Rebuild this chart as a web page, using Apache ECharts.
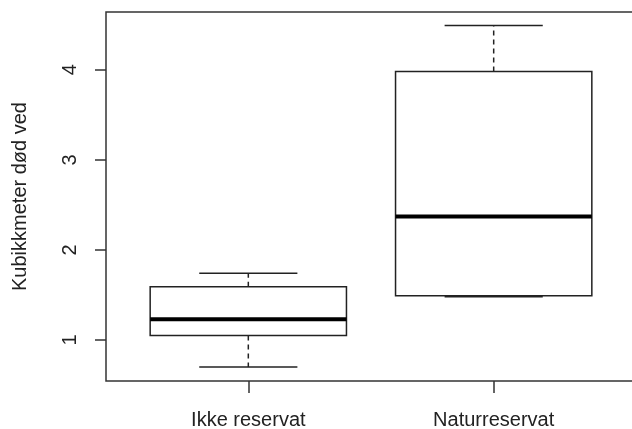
<!DOCTYPE html>
<html>
<head>
<meta charset="utf-8">
<script src="https://cdn.jsdelivr.net/npm/echarts@6/dist/echarts.min.js"></script>
<style>
  html, body { margin: 0; padding: 0; background: #fff; }
  #chart { width: 632px; height: 429px; }
</style>
</head>
<body>
<div id="chart"></div>
<script>
// Dead wood volume by area type: five-number summaries per group
const categories = ['Ikke reservat', 'Naturreservat'];
const whiskerLow  = [0.70, 1.48];
const lowerQuart  = [1.05, 1.49];
const medians     = [1.23, 2.37];
const upperQuart  = [1.59, 3.98];
const whiskerHigh = [1.74, 4.49];
const yTicks = [1, 2, 3, 4];

const BOX_WIDTH = 0.8;   // in x units (group positions are 1, 2, ...)
const CAP_WIDTH = 0.4;
const INK = '#222';
const FONT = 'Liberation Sans, Arial, sans-serif';

const rows = categories.map((c, i) => [
  i + 1, whiskerLow[i], lowerQuart[i], medians[i], upperQuart[i], whiskerHigh[i]
]);

function renderBox(params, api) {
  const x = api.value(0);
  const lo = api.coord([x, api.value(1)]);
  const q1 = api.coord([x, api.value(2)]);
  const md = api.coord([x, api.value(3)]);
  const q3 = api.coord([x, api.value(4)]);
  const hi = api.coord([x, api.value(5)]);
  const halfBox = api.size([BOX_WIDTH, 0])[0] / 2;
  const halfCap = api.size([CAP_WIDTH, 0])[0] / 2;
  const cx = lo[0];
  const thin = { stroke: INK, lineWidth: 1.5 };
  const dashed = { stroke: INK, lineWidth: 1.5, lineDash: [5, 4] };
  return {
    type: 'group',
    children: [
      { type: 'line', shape: { x1: cx, y1: q3[1], x2: cx, y2: hi[1] }, style: dashed },
      { type: 'line', shape: { x1: cx, y1: q1[1], x2: cx, y2: lo[1] }, style: dashed },
      { type: 'line', shape: { x1: cx - halfCap, y1: hi[1], x2: cx + halfCap, y2: hi[1] }, style: thin },
      { type: 'line', shape: { x1: cx - halfCap, y1: lo[1], x2: cx + halfCap, y2: lo[1] }, style: thin },
      { type: 'rect', shape: { x: cx - halfBox, y: q3[1], width: halfBox * 2, height: q1[1] - q3[1] },
        style: { fill: '#fff', stroke: INK, lineWidth: 1.5 } },
      { type: 'line', shape: { x1: cx - halfBox, y1: md[1], x2: cx + halfBox, y2: md[1] },
        style: { stroke: '#000', lineWidth: 4 } }
    ]
  };
}

const chart = echarts.init(document.getElementById('chart'), null, { renderer: 'canvas' });
chart.setOption({
  animation: false,
  backgroundColor: '#fff',
  grid: {
    left: 106, top: 12, width: 530, height: 369,
    outerBoundsMode: 'none', containLabel: false,
    show: true, borderColor: '#333', borderWidth: 1.5, backgroundColor: 'transparent'
  },
  xAxis: {
    type: 'value', min: 0.42, max: 2.58,
    axisLine: { show: false },
    splitLine: { show: false },
    axisTick: { show: true, customValues: [1, 2], length: 12, inside: false,
      lineStyle: { color: '#333', width: 1.5 } },
    axisLabel: { customValues: [1, 2], margin: 29, fontSize: 20, fontFamily: FONT, color: INK,
      formatter: v => categories[Math.round(v) - 1] }
  },
  yAxis: {
    type: 'value', min: 0.545, max: 4.641,
    name: 'Kubikkmeter død ved', nameLocation: 'middle', nameRotate: 90, nameGap: 76,
    nameTextStyle: { fontSize: 20, fontFamily: FONT, color: INK },
    axisLine: { show: false },
    splitLine: { show: false },
    axisTick: { show: true, customValues: yTicks, length: 11, inside: false,
      lineStyle: { color: '#333', width: 1.5 } },
    axisLabel: { customValues: yTicks, rotate: 90, margin: 26, fontSize: 20, fontFamily: FONT, color: INK }
  },
  series: [{
    type: 'custom',
    renderItem: renderBox,
    encode: { x: 0, y: [1, 2, 3, 4, 5] },
    data: rows,
    clip: false
  }]
});
</script>
</body>
</html>
